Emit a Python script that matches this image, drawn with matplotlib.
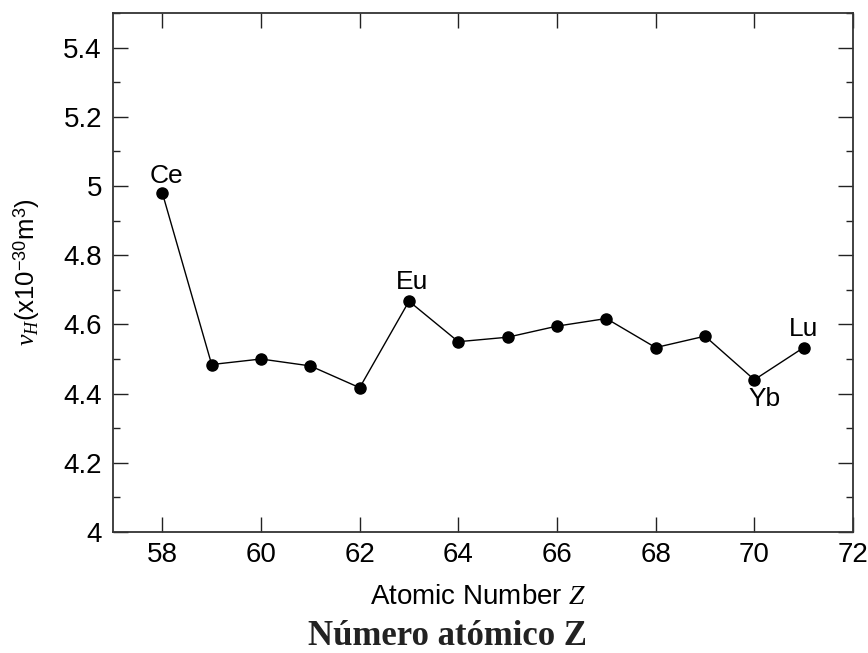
import matplotlib
matplotlib.use("Agg")
import matplotlib.pyplot as plt
from matplotlib.ticker import MultipleLocator

# atomic number vs volume
z = [58, 59, 60, 61, 62, 63, 64, 65, 66, 67, 68, 69, 70, 71]
vh = [4.98, 4.484, 4.50, 4.48, 4.417, 4.667, 4.55, 4.563, 4.595, 4.617,
      4.533, 4.566, 4.44, 4.533]

yticks = [4, 4.2, 4.4, 4.6, 4.8, 5, 5.2, 5.4]
ytick_labels = ["4", "4.2", "4.4", "4.6", "4.8", "5", "5.2", "5.4"]

# element name, index into z, offset (pt), vertical alignment
notes = [("Ce", 0, (3, 7), "baseline"),
         ("Eu", 5, (2, 8.5), "baseline"),
         ("Yb", 12, (7, -5.5), "top"),
         ("Lu", 13, (0, 8), "baseline")]

plt.rcParams['font.family'] = ['Liberation Sans', 'DejaVu Sans']
plt.rcParams['mathtext.fontset'] = 'custom'
plt.rcParams['mathtext.it'] = 'Liberation Serif:italic'
plt.rcParams['mathtext.rm'] = 'Liberation Sans'

fig = plt.figure(figsize=(8.68, 6.53), dpi=100)
ax = fig.add_axes([113 / 868, 1 - 532 / 653, (853 - 113) / 868, (532 - 13) / 653])

ax.plot(z, vh, color="black", lw=1.0, marker="o", ms=8, mfc="black", mec="black")

for name, i, off, va in notes:
    ax.annotate(name, (z[i], vh[i]), xytext=off, textcoords="offset points",
                ha="center", va=va, fontsize=19)

ax.set_xlim(57, 72)
ax.set_ylim(4, 5.5)
ax.xaxis.set_major_locator(MultipleLocator(2))
ax.yaxis.set_minor_locator(MultipleLocator(0.1))
ax.set_yticks(yticks)
ax.set_yticklabels(ytick_labels)

ax.tick_params(which="both", direction="in", top=True, right=True, labelsize=20,
               width=1.0, colors="#222222", labelcolor="black")
ax.tick_params(which="major", length=11)
ax.tick_params(axis="x", which="major", pad=7)
ax.tick_params(axis="y", which="major", pad=8)
ax.tick_params(which="minor", length=5)
for s in ax.spines.values():
    s.set_linewidth(1.3)
    s.set_color("#333333")

ax.set_ylabel(r"$v_H$(x10$^{-30}$m$^3$)", fontsize=18.5)
ax.yaxis.set_label_coords(-0.096, 0.5)
ax.set_xlabel(r"Atomic Number $Z$", fontsize=20, va="baseline")
ax.xaxis.set_label_coords((478 - 113) / 740, -(604 - 532) / 519)

fig.text(447 / 868, 1 - 645 / 653, "Número atómico Z",
         ha="center", va="baseline", fontsize=25, fontweight="bold",
         family="Liberation Serif", color="#222222")

fig.savefig("out.png", dpi=100)
